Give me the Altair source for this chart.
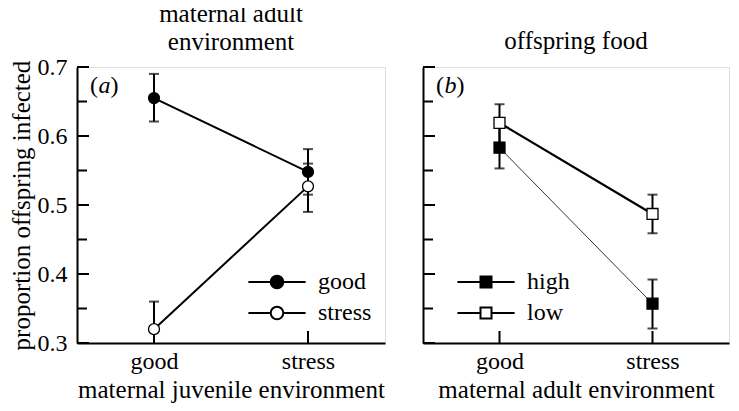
import altair as alt
import pandas as pd

FONT = "Liberation Serif"
FS = 24      # tick and legend labels
TFS = 25     # axis and panel titles

categories = ["good", "stress"]

# panel (a): maternal adult environment series, x = maternal juvenile environment
a_series = ["good", "good", "stress", "stress"]
a_x = ["good", "stress", "good", "stress"]
a_mean = [0.655, 0.548, 0.320, 0.527]
a_lo = [0.621, 0.515, 0.280, 0.490]
a_hi = [0.690, 0.581, 0.360, 0.560]

# panel (b): offspring food series, x = maternal adult environment
b_series = ["high", "high", "low", "low"]
b_x = ["good", "stress", "good", "stress"]
b_mean = [0.583, 0.357, 0.619, 0.487]
b_lo = [0.553, 0.321, 0.590, 0.459]
b_hi = [0.615, 0.392, 0.646, 0.515]

major_ticks = [0.3, 0.4, 0.5, 0.6, 0.7]
minor_ticks = [0.35, 0.45, 0.55, 0.65]

H = 276
# legend glyphs: short line, marker, short line (unit box = 22 px)
CIRCLE_PATH = ("M-2.6,0H-0.57M0.57,0H2.6"
               "M-0.57,0A0.57,0.57,0,1,0,0.57,0A0.57,0.57,0,1,0,-0.57,0Z")
SQUARE_PATH = "M-2.6,0H-0.5M0.5,0H2.6M-0.5,-0.5H0.5V0.5H-0.5Z"


def panel(series, xs, mean, lo, hi, shape, legend_path, xtitle, ytitle,
          show_labels, title, label, width, widths, legend_x, title_offset):
    df = pd.DataFrame({"series": series, "x": xs, "mean": mean, "lo": lo, "hi": hi})
    xscale = alt.Scale(type="point", domain=categories, padding=0.5)
    yscale = alt.Scale(domain=[0.3, 0.7], nice=False, zero=False)
    dom = list(dict.fromkeys(series))

    if show_labels:
        yaxis = alt.Axis(values=major_ticks, format=".1f", ticks=False, grid=False,
                         labelFont=FONT, labelFontSize=FS, labelColor="black",
                         labelPadding=10, title=ytitle, titleFont=FONT,
                         titleFontSize=TFS, titleFontWeight="normal",
                         titleColor="black", titlePadding=3,
                         domainColor="black", domainWidth=2)
    else:
        yaxis = alt.Axis(labels=False, ticks=False, grid=False, title="",
                         domainColor="black", domainWidth=2)
    xaxis = alt.Axis(ticks=False, grid=False, labelAngle=0, labelFont=FONT,
                     labelFontSize=FS, labelColor="black", labelPadding=6,
                     title=xtitle, titleFont=FONT, titleFontSize=TFS,
                     titleFontWeight="normal", titleColor="black", titlePadding=4,
                     domainColor="black", domainWidth=2)

    def X(f):
        return alt.X(f, scale=xscale, axis=xaxis)

    def Y(f):
        return alt.Y(f, scale=yscale, axis=yaxis)

    base = alt.Chart(df)
    layers = []
    for s, w in zip(dom, widths):
        layers.append(
            alt.Chart(df[df["series"] == s]).mark_line(color="black", strokeWidth=w).encode(
                x=X("x:N"), y=Y("mean:Q"))
        )
    bars = base.mark_rule(color="black", strokeWidth=2, clip=True).encode(
        x=X("x:N"), y=Y("lo:Q"), y2="hi:Q")
    cap_hi = base.mark_tick(color="black", thickness=2, size=10, orient="horizontal",
                            clip=True).encode(x=X("x:N"), y=Y("hi:Q"))
    cap_lo = base.mark_tick(color="black", thickness=2, size=10, orient="horizontal",
                            clip=True).encode(x=X("x:N"), y=Y("lo:Q"))
    pts = base.mark_point(shape=shape, filled=True, stroke="black", strokeWidth=1.3,
                          size=120, opacity=1).encode(
        x=X("x:N"),
        y=Y("mean:Q"),
        fill=alt.Fill("series:N",
                      scale=alt.Scale(domain=dom, range=["black", "white"]),
                      legend=alt.Legend(title=None, orient="none",
                                        legendX=legend_x, legendY=H - 73,
                                        symbolType=legend_path, symbolSize=484,
                                        symbolStrokeColor="black",
                                        symbolStrokeWidth=2,
                                        labelFont=FONT, labelFontSize=FS,
                                        labelColor="black", labelOffset=29,
                                        rowPadding=7, padding=0)),
    )
    yt_major = alt.Chart(pd.DataFrame({"t": major_ticks})).mark_rule(
        color="black", strokeWidth=2).encode(
        y=Y("t:Q"), x=alt.value(0), x2=alt.value(12))
    yt_minor = alt.Chart(pd.DataFrame({"t": minor_ticks})).mark_rule(
        color="black", strokeWidth=2).encode(
        y=Y("t:Q"), x=alt.value(0), x2=alt.value(10))
    xt = alt.Chart(pd.DataFrame({"c": categories})).mark_rule(
        color="black", strokeWidth=2).encode(
        x=X("c:N"), y=alt.value(H), y2=alt.value(H - 12))
    lab_df = pd.DataFrame({"o": ["("], "l": [label], "c": [")"]})
    lab1 = alt.Chart(lab_df).mark_text(font=FONT, fontSize=FS, align="left",
                                       baseline="middle", color="black").encode(
        text="o:N", x=alt.value(13), y=alt.value(19))
    lab2 = alt.Chart(lab_df).mark_text(font=FONT, fontSize=FS, align="left",
                                       baseline="middle", color="black",
                                       fontStyle="italic").encode(
        text="l:N", x=alt.value(21.5), y=alt.value(19))
    lab3 = alt.Chart(lab_df).mark_text(font=FONT, fontSize=FS, align="left",
                                       baseline="middle", color="black").encode(
        text="c:N", x=alt.value(33.5), y=alt.value(19))

    return alt.layer(*layers, yt_major, yt_minor, xt, bars, cap_hi, cap_lo, pts,
                     lab1, lab2, lab3).properties(
        width=width, height=H,
        title=alt.TitleParams(text=title, font=FONT, fontSize=TFS,
                              fontWeight="normal", color="black",
                              anchor="middle", offset=title_offset, lineHeight=28),
    )


pa = panel(a_series, a_x, a_mean, a_lo, a_hi, "circle", CIRCLE_PATH,
           "maternal juvenile environment", "proportion offspring infected",
           True, ["maternal adult", "environment"], "a", 308, [2, 2], 188, 0)
pb = panel(b_series, b_x, b_mean, b_lo, b_hi, "square", SQUARE_PATH,
           "maternal adult environment", None,
           False, "offspring food", "b", 306, [0.8, 2.2], 51, 12)

chart = alt.hconcat(pa, pb, spacing=35).resolve_scale(
    fill="independent").resolve_legend(fill="independent").configure_view(
    strokeWidth=0).properties(
    padding={"left": 0, "top": -7, "right": 0, "bottom": 0}
).configure(background="white")

chart.save("out.html", embed_options={"renderer": "svg", "actions": False})
